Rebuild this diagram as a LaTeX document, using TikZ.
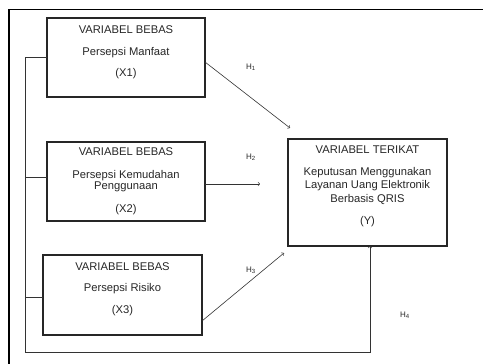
\documentclass[tikz,border=0pt]{standalone}
\usepackage{fontspec}
\setmainfont{Liberation Sans}
\usetikzlibrary{positioning}
\usetikzlibrary{calc}

\begin{document}
\begin{tikzpicture}[x=1pt, y=-1pt,
  varbox/.style={draw=black!85, line width=1.3pt, rectangle, inner sep=0pt,
    outer sep=0pt, anchor=north west},
  vartext/.style={align=center, font=\fontsize{11.2}{11.2}\selectfont,
    text=black!85, inner sep=0pt},
  link/.style={draw=black!80, line width=0.6pt},
  hlabel/.style={font=\fontsize{8}{8}\selectfont, text=black!85, inner sep=0pt}]

\useasboundingbox (0,0) rectangle (483,364);

% frame
\draw[line width=1.4pt] (9,364) -- (9,9.5) -- (483,9.5);

% boxes
\node[varbox, minimum width=158pt, minimum height=79pt] (X1) at (47,18) {};
\node[varbox, minimum width=158pt, minimum height=79pt] (X2) at (47,142) {};
\node[varbox, minimum width=159pt, minimum height=80pt] (X3) at (43,255) {};
\node[varbox, minimum width=159pt, minimum height=107pt] (Y) at (288,139) {};

\node[vartext, below=7.7pt of X1.north] (X1text) {VARIABEL BEBAS\\[10.4pt]Persepsi Manfaat\\[9.8pt](X1)};
\node[vartext, below=5.4pt of X2.north] (X2text) {VARIABEL BEBAS\\[11.5pt]Persepsi Kemudahan\\Penggunaan\\[12.1pt](X2)};
\node[vartext, below=7.3pt of X3.north] (X3text) {VARIABEL BEBAS\\[9.5pt]Persepsi Risiko\\[11.1pt](X3)};
\node[vartext, below=6.7pt of Y.north] (Ytext) {VARIABEL TERIKAT\\[10.3pt]Keputusan Menggunakan\\[2.3pt]Layanan Uang Elektronik\\[2.3pt]Berbasis QRIS\\[10.8pt](Y)};

\coordinate (H1END) at (290,128);
\coordinate (H2END) at (260,184);
\coordinate (H3END) at (284,253);
\coordinate (BUSTOP) at (25,57.5);
\coordinate (BUS2) at (25,177);
\coordinate (BUS3) at (25,297);
\coordinate (BUSBOT) at (25,352);
\coordinate (BUSEND) at (370,352);

\node[hlabel] (H1) at (251,67) {H\textsubscript{1}};
\node[hlabel] (H2) at (251,157) {H\textsubscript{2}};
\node[hlabel] (H3) at (251,270) {H\textsubscript{3}};
\node[hlabel] (H4) at (405,315) {H\textsubscript{4}};

\draw[link, ->] ($(X1.east)+(0,4.5)$) -- (H1END);
\draw[link, ->] ($(X2.east)+(0,2.5)$) -- (H2END);
\draw[link, ->] ($(X3.south east)+(0,-14)$) -- (H3END);

\draw[link] (BUSTOP) -- (X1.west);
\draw[link] (BUS2) -- (BUS2 -| X2.west);
\draw[link] (BUS3) -- (BUS3 -| X3.west);
\draw[link, ->] (BUSTOP) -- (BUSBOT) -- (BUSEND) -- (BUSEND |- Y.south);

\end{tikzpicture}
\end{document}
